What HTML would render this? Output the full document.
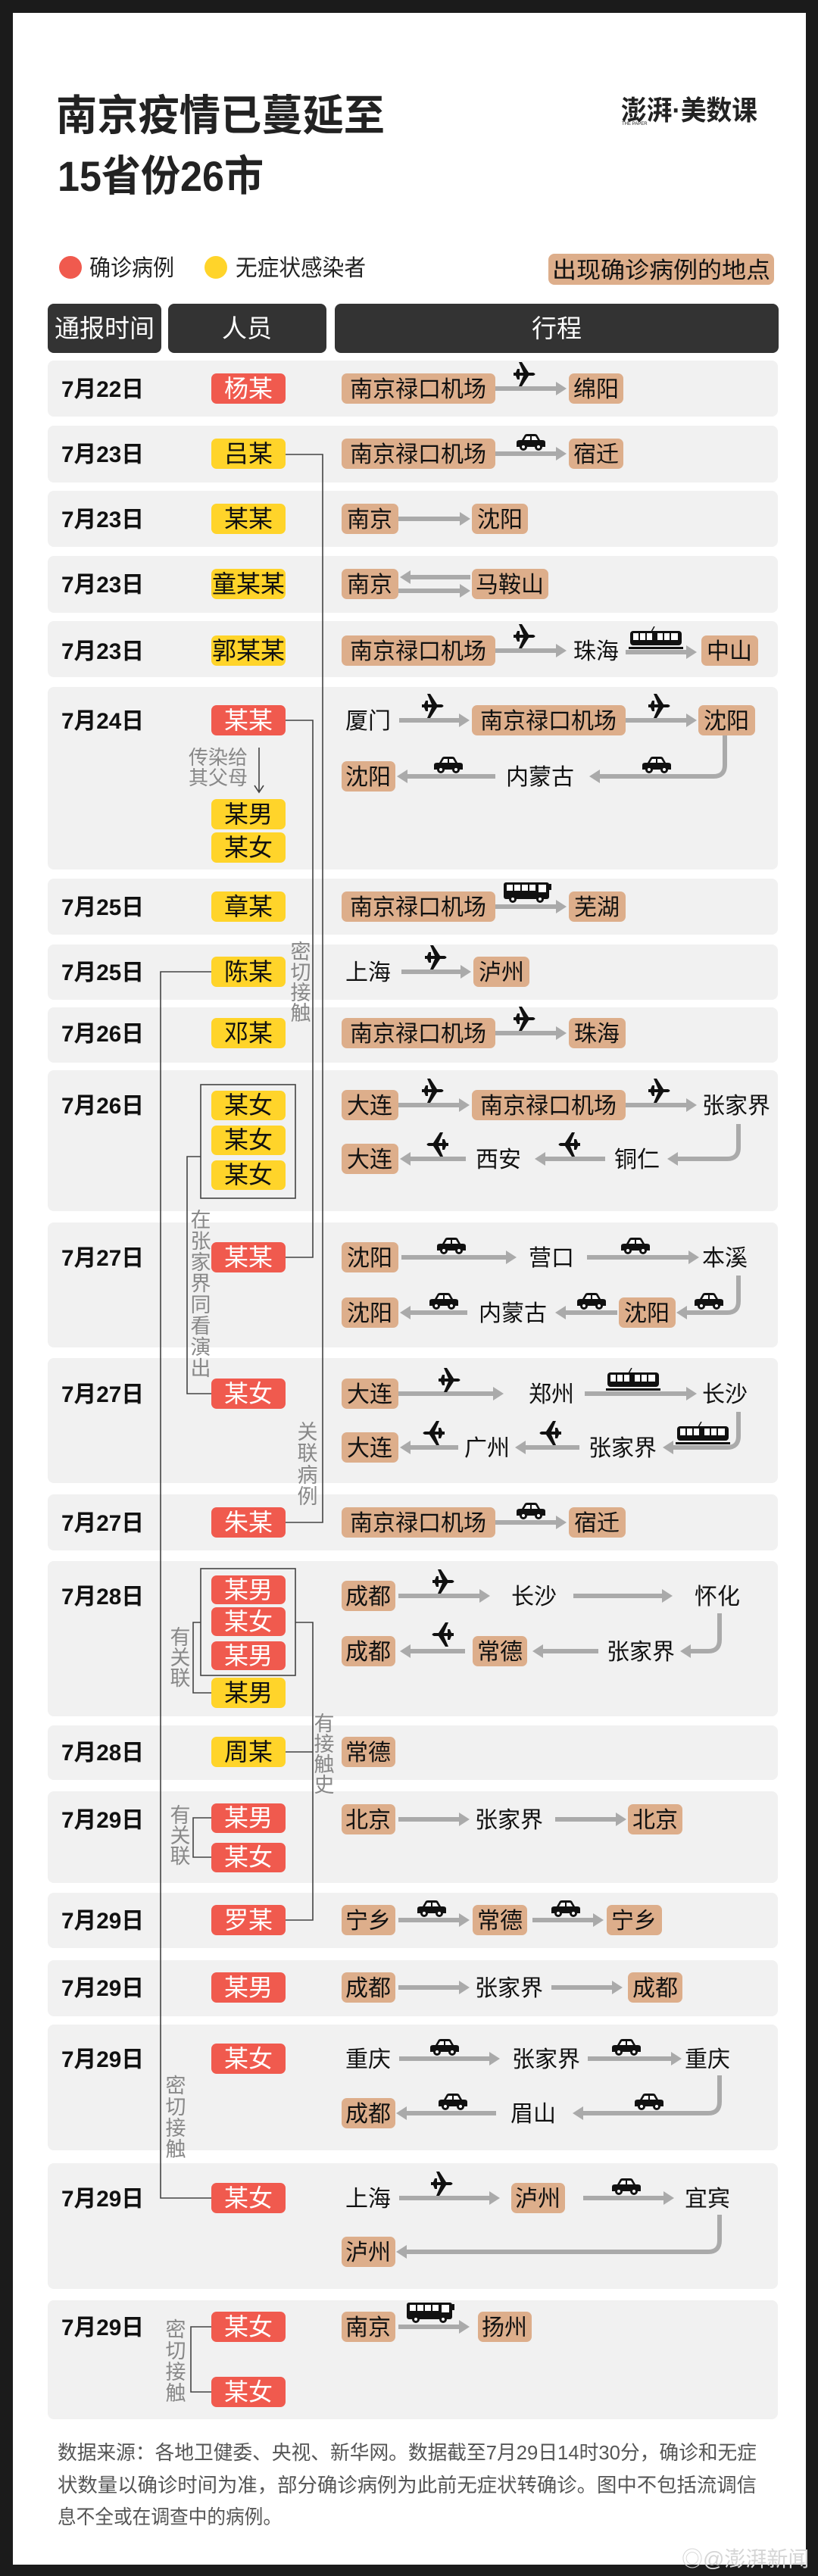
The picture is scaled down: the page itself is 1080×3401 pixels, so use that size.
<!DOCTYPE html>
<html><head><meta charset="utf-8"><style>
html,body{margin:0;padding:0;background:#1b1b1b;}
svg{display:block;}
text{font-family:"Liberation Sans","Noto Sans CJK SC",sans-serif;}
.pt{font-size:30px;fill:#111;text-anchor:middle;}
.tg{fill:#DDAE8B;}
.bg{fill:#F1F1F1;}
.a{stroke:#AAAAAA;stroke-width:6;fill:none;}
.h{fill:#AAAAAA;}
.c{stroke:#444;stroke-width:1.6;fill:none;}
.d{font-size:30px;font-weight:bold;fill:#111;}
.bw{font-size:32px;fill:#fff;text-anchor:middle;}
.bk{font-size:32px;fill:#111;text-anchor:middle;}
.r{fill:#F05A4E;}
.y{fill:#FFD42A;}
.lb{font-size:27px;fill:#888;text-anchor:middle;}
</style></head><body>
<svg width="1080" height="3401" viewBox="0 0 1080 3401" xmlns="http://www.w3.org/2000/svg">
<defs>
<symbol id="plane" viewBox="0 0 32 34"><path d="M1 15 L4 15 L6 10 L9 10 L9 15 L14 15 L8 1 L12 1 L21 15 L27 15 Q32 17 27 19 L21 19 L12 33 L8 33 L14 19 L9 19 L9 24 L6 24 L4 19 L1 19Z" fill="#111"/></symbol>
<symbol id="car" viewBox="0 0 42 24"><path d="M2 12 Q2 9 6 9 L9 9 L13 2 Q14 1 16 1 L26 1 Q28 1 29 2 L33 9 L36 9 Q40 9 40 12 L40 18 L2 18Z" fill="#111"/><path d="M15 4 L20 4 L20 9 L12 9Z M22 4 L27 4 L30 9 L22 9Z" fill="#fff"/><circle cx="11" cy="18" r="5" fill="#111"/><circle cx="11" cy="18" r="2" fill="#fff"/><circle cx="31" cy="18" r="5" fill="#111"/><circle cx="31" cy="18" r="2" fill="#fff"/></symbol>
<symbol id="bus" viewBox="0 0 64 30"><rect x="0" y="2" width="60" height="22" rx="3" fill="#111"/><rect x="60" y="4" width="3" height="8" fill="#111"/><g fill="#fff"><rect x="4" y="5" width="8" height="8"/><rect x="14" y="5" width="8" height="8"/><rect x="24" y="5" width="8" height="8"/><rect x="34" y="5" width="8" height="8"/><rect x="46" y="5" width="10" height="10"/></g><circle cx="12" cy="24" r="5" fill="#111"/><circle cx="12" cy="24" r="2" fill="#fff"/><circle cx="48" cy="24" r="5" fill="#111"/><circle cx="48" cy="24" r="2" fill="#fff"/></symbol>
<symbol id="train" viewBox="0 0 72 32"><path d="M30 7 L34 0" stroke="#111" stroke-width="1.5"/><rect x="2" y="6" width="68" height="19" rx="4" fill="#111"/><g fill="#fff"><rect x="6" y="9" width="7" height="9"/><rect x="15" y="9" width="7" height="9"/><rect x="24" y="9" width="7" height="9"/><rect x="38" y="9" width="7" height="9"/><rect x="47" y="9" width="7" height="9"/><rect x="56" y="9" width="9" height="9"/></g><rect x="0" y="27" width="72" height="3" fill="#111"/></symbol>
</defs>
<rect x="0" y="0" width="1080" height="3401" fill="#1b1b1b"/>
<rect x="17" y="17" width="1047" height="3369" fill="#fff"/>

<!-- Title -->
<text x="74" y="172" font-size="56" font-weight="bold" fill="#222" textLength="434" lengthAdjust="spacingAndGlyphs">南京疫情已蔓延至</text>
<text x="76" y="252" font-size="56" font-weight="bold" fill="#222" textLength="272" lengthAdjust="spacingAndGlyphs">15省份26市</text>
<text x="820" y="158" font-size="36" font-weight="bold" fill="#222" textLength="180" lengthAdjust="spacingAndGlyphs">澎湃·美数课</text>
<text x="821" y="165" font-size="6" fill="#222">THE PAPER</text>

<!-- Legend -->
<circle cx="93" cy="353" r="15" fill="#F05A4E"/>
<text x="118" y="364" font-size="30" fill="#222" textLength="112" lengthAdjust="spacingAndGlyphs">确诊病例</text>
<circle cx="285" cy="353" r="15" fill="#FFD42A"/>
<text x="311" y="364" font-size="30" fill="#222" textLength="172" lengthAdjust="spacingAndGlyphs">无症状感染者</text>
<rect x="724" y="335" width="298" height="41" rx="8" class="tg"/>
<text x="873" y="367" font-size="30" fill="#111" text-anchor="middle" textLength="288" lengthAdjust="spacingAndGlyphs">出现确诊病例的地点</text>

<!-- Header -->
<rect x="63" y="401" width="150" height="65" rx="8" fill="#333"/>
<rect x="222" y="401" width="209" height="65" rx="8" fill="#333"/>
<rect x="442" y="401" width="586" height="65" rx="8" fill="#333"/>
<text x="138" y="445" font-size="33" fill="#fff" text-anchor="middle">通报时间</text>
<text x="326" y="445" font-size="33" fill="#fff" text-anchor="middle">人员</text>
<text x="735" y="445" font-size="33" fill="#fff" text-anchor="middle">行程</text>

<!-- Row backgrounds -->
<rect class="bg" x="63" y="476" width="964" height="74" rx="8"/>
<rect class="bg" x="63" y="562" width="964" height="75" rx="8"/>
<rect class="bg" x="63" y="648" width="964" height="74" rx="8"/>
<rect class="bg" x="63" y="734" width="964" height="75" rx="8"/>
<rect class="bg" x="63" y="820" width="964" height="74" rx="8"/>
<rect class="bg" x="63" y="907" width="964" height="241" rx="8"/>
<rect class="bg" x="63" y="1160" width="964" height="74" rx="8"/>
<rect class="bg" x="63" y="1247" width="964" height="73" rx="8"/>
<rect class="bg" x="63" y="1330" width="964" height="73" rx="8"/>
<rect class="bg" x="63" y="1413" width="964" height="186" rx="8"/>
<rect class="bg" x="63" y="1614" width="964" height="165" rx="8"/>
<rect class="bg" x="63" y="1793" width="964" height="165" rx="8"/>
<rect class="bg" x="63" y="1973" width="964" height="74" rx="8"/>
<rect class="bg" x="63" y="2061" width="964" height="205" rx="8"/>
<rect class="bg" x="63" y="2278" width="964" height="72" rx="8"/>
<rect class="bg" x="63" y="2365" width="964" height="121" rx="8"/>
<rect class="bg" x="63" y="2499" width="964" height="73" rx="8"/>
<rect class="bg" x="63" y="2588" width="964" height="74" rx="8"/>
<rect class="bg" x="63" y="2673" width="964" height="166" rx="8"/>
<rect class="bg" x="63" y="2856" width="964" height="166" rx="8"/>
<rect class="bg" x="63" y="3037" width="964" height="157" rx="8"/>

<!-- Dates -->
<g class="d">
<text x="81" y="524" textLength="109" lengthAdjust="spacingAndGlyphs">7月22日</text>
<text x="81" y="610" textLength="109" lengthAdjust="spacingAndGlyphs">7月23日</text>
<text x="81" y="696" textLength="109" lengthAdjust="spacingAndGlyphs">7月23日</text>
<text x="81" y="782" textLength="109" lengthAdjust="spacingAndGlyphs">7月23日</text>
<text x="81" y="870" textLength="109" lengthAdjust="spacingAndGlyphs">7月23日</text>
<text x="81" y="962" textLength="109" lengthAdjust="spacingAndGlyphs">7月24日</text>
<text x="81" y="1208" textLength="109" lengthAdjust="spacingAndGlyphs">7月25日</text>
<text x="81" y="1294" textLength="109" lengthAdjust="spacingAndGlyphs">7月25日</text>
<text x="81" y="1375" textLength="109" lengthAdjust="spacingAndGlyphs">7月26日</text>
<text x="81" y="1470" textLength="109" lengthAdjust="spacingAndGlyphs">7月26日</text>
<text x="81" y="1671" textLength="109" lengthAdjust="spacingAndGlyphs">7月27日</text>
<text x="81" y="1851" textLength="109" lengthAdjust="spacingAndGlyphs">7月27日</text>
<text x="81" y="2021" textLength="109" lengthAdjust="spacingAndGlyphs">7月27日</text>
<text x="81" y="2118" textLength="109" lengthAdjust="spacingAndGlyphs">7月28日</text>
<text x="81" y="2324" textLength="109" lengthAdjust="spacingAndGlyphs">7月28日</text>
<text x="81" y="2413" textLength="109" lengthAdjust="spacingAndGlyphs">7月29日</text>
<text x="81" y="2546" textLength="109" lengthAdjust="spacingAndGlyphs">7月29日</text>
<text x="81" y="2635" textLength="109" lengthAdjust="spacingAndGlyphs">7月29日</text>
<text x="81" y="2729" textLength="109" lengthAdjust="spacingAndGlyphs">7月29日</text>
<text x="81" y="2913" textLength="109" lengthAdjust="spacingAndGlyphs">7月29日</text>
<text x="81" y="3083" textLength="109" lengthAdjust="spacingAndGlyphs">7月29日</text>
</g>

<!-- Connectors -->
<path class="c" d="M377 600 H426 V2010 H377"/>
<path class="c" d="M377 951 H413 V1660 H377"/>
<rect class="c" x="265" y="1432" width="125" height="150"/>
<path class="c" d="M265 1527 H247 V1840 H279"/>
<path class="c" d="M279 1283 H212 V2902 H279"/>
<rect class="c" x="265" y="2071" width="125" height="141"/>
<path class="c" d="M390 2142 H413 V2535 H377 M377 2313 H413"/>
<path class="c" d="M265 2142 H255 V2235 H279"/>
<path class="c" d="M279 2400 H255 V2452 H279"/>
<path class="c" d="M279 3072 H252 V3158 H279"/>
<path class="c" d="M342 987 V1045 M336 1037 L342 1046 L348 1037"/>

<!-- Connector labels -->
<text x="249" y="1009" font-size="26" fill="#888">传染给</text>
<text x="249" y="1036" font-size="26" fill="#888">其父母</text>
<g class="lb">
<text x="406" y="1900">关</text><text x="406" y="1928">联</text><text x="406" y="1957">病</text><text x="406" y="1985">例</text>
<text x="397" y="1266">密</text><text x="397" y="1293">切</text><text x="397" y="1320">接</text><text x="397" y="1347">触</text>
<text x="265" y="1620">在</text><text x="265" y="1648">张</text><text x="265" y="1676">家</text><text x="265" y="1704">界</text><text x="265" y="1732">同</text><text x="265" y="1760">看</text><text x="265" y="1788">演</text><text x="265" y="1816">出</text>
<text x="232" y="2763">密</text><text x="232" y="2791">切</text><text x="232" y="2819">接</text><text x="232" y="2847">触</text>
<text x="428" y="2285">有</text><text x="428" y="2312">接</text><text x="428" y="2339">触</text><text x="428" y="2366">史</text>
<text x="238" y="2171">有</text><text x="238" y="2198">关</text><text x="238" y="2225">联</text>
<text x="238" y="2406">有</text><text x="238" y="2433">关</text><text x="238" y="2460">联</text>
<text x="232" y="3085">密</text><text x="232" y="3113">切</text><text x="232" y="3141">接</text><text x="232" y="3169">触</text>
</g>

<!-- Badges -->
<g>
<rect class="r" x="279" y="493" width="98" height="40" rx="7"/><text class="bw" x="328" y="524">杨某</text>
<rect class="y" x="279" y="579" width="98" height="40" rx="7"/><text class="bk" x="328" y="610">吕某</text>
<rect class="y" x="279" y="665" width="98" height="40" rx="7"/><text class="bk" x="328" y="696">某某</text>
<rect class="y" x="279" y="751" width="98" height="40" rx="7"/><text class="bk" x="328" y="782" font-size="31" textLength="96" lengthAdjust="spacingAndGlyphs">童某某</text>
<rect class="y" x="279" y="839" width="98" height="40" rx="7"/><text class="bk" x="328" y="870" textLength="96" lengthAdjust="spacingAndGlyphs">郭某某</text>
<rect class="r" x="279" y="931" width="98" height="40" rx="7"/><text class="bw" x="328" y="962">某某</text>
<rect class="y" x="279" y="1055" width="98" height="40" rx="7"/><text class="bk" x="328" y="1086">某男</text>
<rect class="y" x="279" y="1099" width="98" height="40" rx="7"/><text class="bk" x="328" y="1130">某女</text>
<rect class="y" x="279" y="1177" width="98" height="40" rx="7"/><text class="bk" x="328" y="1208">章某</text>
<rect class="y" x="279" y="1263" width="98" height="40" rx="7"/><text class="bk" x="328" y="1294">陈某</text>
<rect class="y" x="279" y="1344" width="98" height="40" rx="7"/><text class="bk" x="328" y="1375">邓某</text>
<rect class="y" x="279" y="1440" width="98" height="39" rx="7"/><text class="bk" x="328" y="1470">某女</text>
<rect class="y" x="279" y="1486" width="98" height="39" rx="7"/><text class="bk" x="328" y="1516">某女</text>
<rect class="y" x="279" y="1532" width="98" height="39" rx="7"/><text class="bk" x="328" y="1562">某女</text>
<rect class="r" x="279" y="1640" width="98" height="40" rx="7"/><text class="bw" x="328" y="1671">某某</text>
<rect class="r" x="279" y="1820" width="98" height="40" rx="7"/><text class="bw" x="328" y="1851">某女</text>
<rect class="r" x="279" y="1990" width="98" height="40" rx="7"/><text class="bw" x="328" y="2021">朱某</text>
<rect class="r" x="279" y="2080" width="98" height="38" rx="7"/><text class="bw" x="328" y="2110">某男</text>
<rect class="r" x="279" y="2122" width="98" height="38" rx="7"/><text class="bw" x="328" y="2152">某女</text>
<rect class="r" x="279" y="2167" width="98" height="38" rx="7"/><text class="bw" x="328" y="2197">某男</text>
<rect class="y" x="279" y="2215" width="98" height="40" rx="7"/><text class="bk" x="328" y="2246">某男</text>
<rect class="y" x="279" y="2293" width="98" height="40" rx="7"/><text class="bk" x="328" y="2324">周某</text>
<rect class="r" x="279" y="2381" width="98" height="39" rx="7"/><text class="bw" x="328" y="2411">某男</text>
<rect class="r" x="279" y="2433" width="98" height="39" rx="7"/><text class="bw" x="328" y="2463">某女</text>
<rect class="r" x="279" y="2515" width="98" height="40" rx="7"/><text class="bw" x="328" y="2546">罗某</text>
<rect class="r" x="279" y="2604" width="98" height="40" rx="7"/><text class="bw" x="328" y="2635">某男</text>
<rect class="r" x="279" y="2698" width="98" height="40" rx="7"/><text class="bw" x="328" y="2729">某女</text>
<rect class="r" x="279" y="2882" width="98" height="40" rx="7"/><text class="bw" x="328" y="2913">某女</text>
<rect class="r" x="279" y="3052" width="98" height="40" rx="7"/><text class="bw" x="328" y="3083">某女</text>
<rect class="r" x="279" y="3138" width="98" height="40" rx="7"/><text class="bw" x="328" y="3169">某女</text>
</g>

<!-- ROUTES -->
<!-- R1 -->
<rect class="tg" x="451" y="493" width="203" height="40" rx="7"/><text class="pt" x="552" y="524">南京禄口机场</text>
<path class="a" d="M654 513 H736"/><path class="h" d="M734 504 L748 513 L734 522Z"/>
<use href="#plane" x="677" y="477" width="32" height="34"/>
<rect class="tg" x="751" y="493" width="72" height="40" rx="7"/><text class="pt" x="787" y="524">绵阳</text>
<!-- R2 -->
<rect class="tg" x="451" y="579" width="203" height="40" rx="7"/><text class="pt" x="552" y="610">南京禄口机场</text>
<path class="a" d="M654 599 H736"/><path class="h" d="M734 590 L748 599 L734 608Z"/>
<use href="#car" x="680" y="572" width="42" height="24"/>
<rect class="tg" x="751" y="579" width="72" height="40" rx="7"/><text class="pt" x="787" y="610">宿迁</text>
<!-- R3 -->
<rect class="tg" x="451" y="665" width="75" height="40" rx="7"/><text class="pt" x="488" y="696">南京</text>
<path class="a" d="M526 685 H609"/><path class="h" d="M607 676 L621 685 L607 694Z"/>
<rect class="tg" x="623" y="665" width="74" height="40" rx="7"/><text class="pt" x="660" y="696">沈阳</text>
<!-- R4 -->
<rect class="tg" x="451" y="751" width="75" height="40" rx="7"/><text class="pt" x="488" y="782">南京</text>
<path class="a" d="M621 762 H540"/><path class="h" d="M542 753 L528 762 L542 771Z"/>
<path class="a" d="M526 780 H609"/><path class="h" d="M607 771 L621 780 L607 789Z"/>
<rect class="tg" x="623" y="751" width="101" height="40" rx="7"/><text class="pt" x="673" y="782">马鞍山</text>
<!-- R5 -->
<rect class="tg" x="451" y="839" width="203" height="40" rx="7"/><text class="pt" x="552" y="870">南京禄口机场</text>
<path class="a" d="M654 859 H736"/><path class="h" d="M734 850 L748 859 L734 868Z"/>
<use href="#plane" x="677" y="823" width="32" height="34"/>
<text class="pt" x="787" y="870">珠海</text>
<path class="a" d="M826 861 H908"/><path class="h" d="M906 852 L920 861 L906 870Z"/>
<use href="#train" x="830" y="827" width="72" height="32"/>
<rect class="tg" x="926" y="839" width="75" height="40" rx="7"/><text class="pt" x="963" y="870">中山</text>
<!-- R6 -->
<text class="pt" x="486" y="962">厦门</text>
<path class="a" d="M527 951 H608"/><path class="h" d="M606 942 L620 951 L606 960Z"/>
<use href="#plane" x="556" y="915" width="32" height="34"/>
<rect class="tg" x="623" y="931" width="203" height="40" rx="7"/><text class="pt" x="724" y="962">南京禄口机场</text>
<path class="a" d="M826 951 H908"/><path class="h" d="M906 942 L920 951 L906 960Z"/>
<use href="#plane" x="855" y="915" width="32" height="34"/>
<rect class="tg" x="922" y="931" width="75" height="40" rx="7"/><text class="pt" x="959" y="962">沈阳</text>
<path class="a" d="M957 971 V1010 Q957 1025 942 1025 H790"/><path class="h" d="M792 1016 L778 1025 L792 1034Z"/>
<use href="#car" x="846" y="998" width="42" height="24"/>
<text class="pt" x="713" y="1036">内蒙古</text>
<path class="a" d="M654 1025 H536"/><path class="h" d="M538 1016 L524 1025 L538 1034Z"/>
<use href="#car" x="571" y="998" width="42" height="24"/>
<rect class="tg" x="451" y="1005" width="71" height="40" rx="7"/><text class="pt" x="486" y="1036">沈阳</text>
<!-- R7 -->
<rect class="tg" x="451" y="1177" width="203" height="40" rx="7"/><text class="pt" x="552" y="1208">南京禄口机场</text>
<path class="a" d="M654 1197 H736"/><path class="h" d="M734 1188 L748 1197 L734 1206Z"/>
<use href="#bus" x="665" y="1163" width="64" height="30"/>
<rect class="tg" x="751" y="1177" width="75" height="40" rx="7"/><text class="pt" x="788" y="1208">芜湖</text>
<!-- R8 -->
<text class="pt" x="486" y="1294">上海</text>
<path class="a" d="M530 1283 H610"/><path class="h" d="M608 1274 L622 1283 L608 1292Z"/>
<use href="#plane" x="560" y="1247" width="32" height="34"/>
<rect class="tg" x="625" y="1263" width="74" height="40" rx="7"/><text class="pt" x="662" y="1294">泸州</text>
<!-- R9 -->
<rect class="tg" x="451" y="1344" width="203" height="40" rx="7"/><text class="pt" x="552" y="1375">南京禄口机场</text>
<path class="a" d="M654 1364 H736"/><path class="h" d="M734 1355 L748 1364 L734 1373Z"/>
<use href="#plane" x="677" y="1328" width="32" height="34"/>
<rect class="tg" x="751" y="1344" width="75" height="40" rx="7"/><text class="pt" x="788" y="1375">珠海</text>
<!-- R10 -->
<rect class="tg" x="451" y="1439" width="75" height="40" rx="7"/><text class="pt" x="488" y="1470">大连</text>
<path class="a" d="M526 1459 H608"/><path class="h" d="M606 1450 L620 1459 L606 1468Z"/>
<use href="#plane" x="556" y="1423" width="32" height="34"/>
<rect class="tg" x="623" y="1439" width="203" height="40" rx="7"/><text class="pt" x="724" y="1470">南京禄口机场</text>
<path class="a" d="M826 1459 H908"/><path class="h" d="M906 1450 L920 1459 L906 1468Z"/>
<use href="#plane" x="855" y="1423" width="32" height="34"/>
<text class="pt" x="972" y="1470">张家界</text>
<path class="a" d="M975 1484 V1515 Q975 1530 960 1530 H893"/><path class="h" d="M895 1521 L881 1530 L895 1539Z"/>
<text class="pt" x="841" y="1541">铜仁</text>
<path class="a" d="M799 1530 H718"/><path class="h" d="M720 1521 L706 1530 L720 1539Z"/>
<use href="#plane" x="735" y="1494" width="32" height="34" transform="translate(1502 0) scale(-1 1)"/>
<text class="pt" x="658" y="1541">西安</text>
<path class="a" d="M615 1530 H540"/><path class="h" d="M542 1521 L528 1530 L542 1539Z"/>
<use href="#plane" x="561" y="1494" width="32" height="34" transform="translate(1154 0) scale(-1 1)"/>
<rect class="tg" x="451" y="1510" width="75" height="40" rx="7"/><text class="pt" x="488" y="1541">大连</text>
<!-- R11 -->
<rect class="tg" x="451" y="1640" width="75" height="40" rx="7"/><text class="pt" x="488" y="1671">沈阳</text>
<path class="a" d="M530 1660 H670"/><path class="h" d="M668 1651 L682 1660 L668 1669Z"/>
<use href="#car" x="575" y="1633" width="42" height="24"/>
<text class="pt" x="728" y="1671">营口</text>
<path class="a" d="M775 1660 H911"/><path class="h" d="M909 1651 L923 1660 L909 1669Z"/>
<use href="#car" x="818" y="1633" width="42" height="24"/>
<text class="pt" x="957" y="1671">本溪</text>
<path class="a" d="M975 1684 V1718 Q975 1733 960 1733 H905"/><path class="h" d="M907 1724 L893 1733 L907 1742Z"/>
<use href="#car" x="915" y="1706" width="42" height="24"/>
<rect class="tg" x="817" y="1713" width="75" height="40" rx="7"/><text class="pt" x="854" y="1744">沈阳</text>
<path class="a" d="M815 1733 H745"/><path class="h" d="M747 1724 L733 1733 L747 1742Z"/>
<use href="#car" x="760" y="1706" width="42" height="24"/>
<text class="pt" x="677" y="1744">内蒙古</text>
<path class="a" d="M617 1733 H540"/><path class="h" d="M542 1724 L528 1733 L542 1742Z"/>
<use href="#car" x="565" y="1706" width="42" height="24"/>
<rect class="tg" x="451" y="1713" width="75" height="40" rx="7"/><text class="pt" x="488" y="1744">沈阳</text>
<!-- R12 -->
<rect class="tg" x="451" y="1820" width="75" height="40" rx="7"/><text class="pt" x="488" y="1851">大连</text>
<path class="a" d="M526 1840 H653"/><path class="h" d="M651 1831 L665 1840 L651 1849Z"/>
<use href="#plane" x="578" y="1805" width="32" height="34"/>
<text class="pt" x="728" y="1851">郑州</text>
<path class="a" d="M772 1840 H908"/><path class="h" d="M906 1831 L920 1840 L906 1849Z"/>
<use href="#train" x="800" y="1806" width="72" height="32"/>
<text class="pt" x="957" y="1851">长沙</text>
<path class="a" d="M975 1864 V1896 Q975 1911 960 1911 H887"/><path class="h" d="M889 1902 L875 1911 L889 1920Z"/>
<use href="#train" x="892" y="1877" width="72" height="32"/>
<text class="pt" x="822" y="1922">张家界</text>
<path class="a" d="M765 1911 H692"/><path class="h" d="M694 1902 L680 1911 L694 1920Z"/>
<use href="#plane" x="710" y="1875" width="32" height="34" transform="translate(1452 0) scale(-1 1)"/>
<text class="pt" x="643" y="1922">广州</text>
<path class="a" d="M605 1911 H540"/><path class="h" d="M542 1902 L528 1911 L542 1920Z"/>
<use href="#plane" x="556" y="1875" width="32" height="34" transform="translate(1144 0) scale(-1 1)"/>
<rect class="tg" x="451" y="1891" width="75" height="40" rx="7"/><text class="pt" x="488" y="1922">大连</text>
<!-- R13 -->
<rect class="tg" x="451" y="1990" width="203" height="40" rx="7"/><text class="pt" x="552" y="2021">南京禄口机场</text>
<path class="a" d="M654 2010 H736"/><path class="h" d="M734 2001 L748 2010 L734 2019Z"/>
<use href="#car" x="680" y="1983" width="42" height="24"/>
<rect class="tg" x="751" y="1990" width="75" height="40" rx="7"/><text class="pt" x="788" y="2021">宿迁</text>
<!-- R14 -->
<rect class="tg" x="451" y="2087" width="71" height="40" rx="7"/><text class="pt" x="486" y="2118">成都</text>
<path class="a" d="M526 2107 H635"/><path class="h" d="M633 2098 L647 2107 L633 2116Z"/>
<use href="#plane" x="570" y="2071" width="32" height="34"/>
<text class="pt" x="705" y="2118">长沙</text>
<path class="a" d="M757 2107 H876"/><path class="h" d="M874 2098 L888 2107 L874 2116Z"/>
<text class="pt" x="947" y="2118">怀化</text>
<path class="a" d="M950 2130 V2165 Q950 2180 935 2180 H910"/><path class="h" d="M912 2171 L898 2180 L912 2189Z"/>
<text class="pt" x="846" y="2191">张家界</text>
<path class="a" d="M790 2180 H715"/><path class="h" d="M717 2171 L703 2180 L717 2189Z"/>
<rect class="tg" x="624" y="2160" width="72" height="40" rx="7"/><text class="pt" x="660" y="2191">常德</text>
<path class="a" d="M614 2180 H540"/><path class="h" d="M542 2171 L528 2180 L542 2189Z"/>
<use href="#plane" x="568" y="2141" width="32" height="34" transform="translate(1168 0) scale(-1 1)"/>
<rect class="tg" x="451" y="2160" width="71" height="40" rx="7"/><text class="pt" x="486" y="2191">成都</text>
<!-- R15 -->
<rect class="tg" x="451" y="2293" width="71" height="40" rx="7"/><text class="pt" x="486" y="2324">常德</text>
<!-- R16 -->
<rect class="tg" x="451" y="2382" width="71" height="40" rx="7"/><text class="pt" x="486" y="2413">北京</text>
<path class="a" d="M526 2402 H608"/><path class="h" d="M606 2393 L620 2402 L606 2411Z"/>
<text class="pt" x="672" y="2413">张家界</text>
<path class="a" d="M733 2402 H815"/><path class="h" d="M813 2393 L827 2402 L813 2411Z"/>
<rect class="tg" x="829" y="2382" width="72" height="40" rx="7"/><text class="pt" x="865" y="2413">北京</text>
<!-- R17 -->
<rect class="tg" x="451" y="2515" width="71" height="40" rx="7"/><text class="pt" x="486" y="2546">宁乡</text>
<path class="a" d="M526 2535 H608"/><path class="h" d="M606 2526 L620 2535 L606 2544Z"/>
<use href="#car" x="549" y="2508" width="42" height="24"/>
<rect class="tg" x="624" y="2515" width="72" height="40" rx="7"/><text class="pt" x="660" y="2546">常德</text>
<path class="a" d="M703 2535 H785"/><path class="h" d="M783 2526 L797 2535 L783 2544Z"/>
<use href="#car" x="726" y="2508" width="42" height="24"/>
<rect class="tg" x="801" y="2515" width="73" height="40" rx="7"/><text class="pt" x="837" y="2546">宁乡</text>
<!-- R18 -->
<rect class="tg" x="451" y="2604" width="71" height="40" rx="7"/><text class="pt" x="486" y="2635">成都</text>
<path class="a" d="M526 2624 H608"/><path class="h" d="M606 2615 L620 2624 L606 2633Z"/>
<text class="pt" x="672" y="2635">张家界</text>
<path class="a" d="M728 2624 H810"/><path class="h" d="M808 2615 L822 2624 L808 2633Z"/>
<rect class="tg" x="829" y="2604" width="72" height="40" rx="7"/><text class="pt" x="865" y="2635">成都</text>
<!-- R19 -->
<text class="pt" x="486" y="2729">重庆</text>
<path class="a" d="M527 2718 H648"/><path class="h" d="M646 2709 L660 2718 L646 2727Z"/>
<use href="#car" x="566" y="2691" width="42" height="24"/>
<text class="pt" x="721" y="2729">张家界</text>
<path class="a" d="M776 2718 H888"/><path class="h" d="M886 2709 L900 2718 L886 2727Z"/>
<use href="#car" x="806" y="2691" width="42" height="24"/>
<text class="pt" x="934" y="2729">重庆</text>
<path class="a" d="M950 2740 V2775 Q950 2790 935 2790 H768"/><path class="h" d="M770 2781 L756 2790 L770 2799Z"/>
<use href="#car" x="836" y="2763" width="42" height="24"/>
<text class="pt" x="704" y="2801">眉山</text>
<path class="a" d="M655 2790 H535"/><path class="h" d="M537 2781 L523 2790 L537 2799Z"/>
<use href="#car" x="577" y="2763" width="42" height="24"/>
<rect class="tg" x="451" y="2770" width="71" height="40" rx="7"/><text class="pt" x="486" y="2801">成都</text>
<!-- R20 -->
<text class="pt" x="486" y="2913">上海</text>
<path class="a" d="M527 2902 H648"/><path class="h" d="M646 2893 L660 2902 L646 2911Z"/>
<use href="#plane" x="568" y="2866" width="32" height="34"/>
<rect class="tg" x="675" y="2882" width="71" height="40" rx="7"/><text class="pt" x="710" y="2913">泸州</text>
<path class="a" d="M770 2902 H878"/><path class="h" d="M876 2893 L890 2902 L876 2911Z"/>
<use href="#car" x="806" y="2875" width="42" height="24"/>
<text class="pt" x="934" y="2913">宜宾</text>
<path class="a" d="M950 2924 V2958 Q950 2973 935 2973 H535"/><path class="h" d="M537 2964 L523 2973 L537 2982Z"/>
<rect class="tg" x="451" y="2953" width="71" height="40" rx="7"/><text class="pt" x="486" y="2984">泸州</text>
<!-- R21 -->
<rect class="tg" x="451" y="3052" width="71" height="40" rx="7"/><text class="pt" x="486" y="3083">南京</text>
<path class="a" d="M526 3072 H608"/><path class="h" d="M606 3063 L620 3072 L606 3081Z"/>
<use href="#bus" x="537" y="3038" width="64" height="30"/>
<rect class="tg" x="631" y="3052" width="71" height="40" rx="7"/><text class="pt" x="666" y="3083">扬州</text>

<!-- Footer -->
<text x="76" y="3247" font-size="26" fill="#555" textLength="923" lengthAdjust="spacingAndGlyphs">数据来源：各地卫健委、央视、新华网。数据截至7月29日14时30分，确诊和无症</text>
<text x="76" y="3290" font-size="26" fill="#555" textLength="923" lengthAdjust="spacingAndGlyphs">状数量以确诊时间为准，部分确诊病例为此前无症状转确诊。图中不包括流调信</text>
<text x="76" y="3332" font-size="26" fill="#555" textLength="296" lengthAdjust="spacingAndGlyphs">息不全或在调查中的病例。</text>
<text x="900" y="3388" font-size="28" fill="#d6d6d6">◎@澎湃新闻</text>
</svg>
</body></html>
